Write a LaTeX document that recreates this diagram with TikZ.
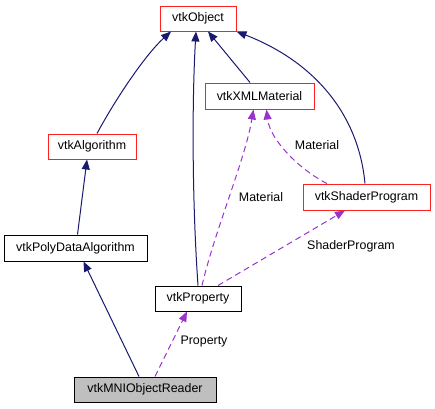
\documentclass[tikz,border=0pt]{standalone}
\usepackage{fontspec}
\setmainfont{Liberation Sans}
\usetikzlibrary{arrows.meta}
\definecolor{navy}{HTML}{191970}
\definecolor{purp}{HTML}{9A32CD}
\definecolor{bred}{HTML}{FF2020}
\tikzset{
  cls/.style={draw=black, line width=1pt, fill=white, inner sep=0pt, font=\fontsize{12.4}{14}\selectfont},
  redcls/.style={cls, draw=bred},
  cur/.style={cls, fill=black!25},
  inh/.style={draw=navy, line width=1pt, -{Triangle[length=10pt,width=8pt]}},
  use/.style={draw=purp, line width=1pt, dash pattern=on 6pt off 4pt, -{Triangle[length=10pt,width=8pt]}},
  lbl/.style={inner sep=0pt, font=\fontsize{12.4}{14}\selectfont}
}
\begin{document}
\begin{tikzpicture}[x=1pt,y=-1pt]
\useasboundingbox (0,0) rectangle (435,408);
\node[redcls, minimum width=76pt, minimum height=25pt] (obj) at (198,18.5) {vtkObject};
\node[redcls, minimum width=109pt, minimum height=26pt] (xml) at (259.5,96) {vtkXMLMaterial};
\node[redcls, minimum width=88pt, minimum height=25pt] (alg) at (92,146.5) {vtkAlgorithm};
\node[redcls, minimum width=127pt, minimum height=26pt] (sp) at (366.5,197) {vtkShaderProgram};
\node[cls, minimum width=143pt, minimum height=26pt] (pda) at (75.5,248) {vtkPolyDataAlgorithm};
\node[cls, minimum width=86pt, minimum height=25pt] (prop) at (198,298.5) {vtkProperty};
\node[cur, minimum width=142pt, minimum height=25pt] (mni) at (145,389.5) {vtkMNIObjectReader};

\draw[inh] ([xshift=5pt]alg.north) .. controls (115,100) and (145,55) .. ([xshift=-27pt]obj.south);
\draw[inh] (prop.north) .. controls (192,200) and (192,100) .. ([xshift=-2pt]obj.south);
\draw[inh] ([xshift=-9.5pt]xml.north) -- ([xshift=10pt]obj.south);
\draw[inh] ([xshift=-1.5pt]sp.north) .. controls (358,110) and (310,60) .. (obj.south east);
\draw[inh] ([xshift=2pt]pda.north) -- ([xshift=-5pt]alg.south);
\draw[inh] ([xshift=-6pt]mni.north) -- ([xshift=8pt]pda.south);

\draw[use] ([xshift=4pt]prop.north) .. controls (215,230) and (245,160) .. ([xshift=-6pt]xml.south);
\node[lbl] (l1) at (261,197) {Material};
\draw[use] ([xshift=-39.5pt]sp.north) .. controls (300,170) and (270,140) .. ([xshift=7pt]xml.south);
\node[lbl] (l2) at (317,145) {Material};
\draw[use] ([xshift=20pt]prop.north) -- ([xshift=-21.5pt]sp.south);
\node[lbl] (l3) at (351,246) {ShaderProgram};
\draw[use] ([xshift=10pt]mni.north) -- ([xshift=-11pt]prop.south);
\node[lbl] (l4) at (204,342) {Property};
\end{tikzpicture}
\end{document}
